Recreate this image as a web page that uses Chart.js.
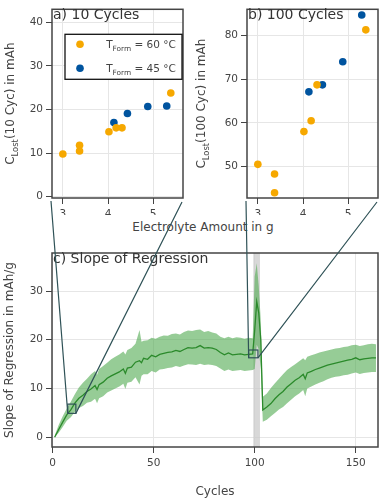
<!DOCTYPE html>
<html>
<head>
<meta charset="utf-8">
<script src="https://cdn.jsdelivr.net/npm/chart.js@4.4.1/dist/chart.umd.min.js"></script>
<style>
  html, body { margin: 0; padding: 0; background: #fff; }
  #wrap { position: relative; width: 382px; height: 501px; overflow: hidden; }
  canvas { position: absolute; }
  #cA { left: 0; top: 0; }
  #cB { left: 190px; top: 0; }
  #cC { left: 0; top: 240px; }
  #overlay { left: 0; top: 0; pointer-events: none; }
  #xlabelAB {
    position: absolute; left: 203px; top: 227px; transform: translate(-50%, -50%);
    font: 12px 'DejaVu Sans', sans-serif; color: #444; white-space: nowrap;
  }
</style>
</head>
<body>
<div id="wrap">
  <canvas id="cA" width="190" height="215"></canvas>
  <canvas id="cB" width="192" height="215"></canvas>
  <canvas id="cC" width="382" height="261"></canvas>
  <div id="xlabelAB">Electrolyte Amount in g</div>
  <canvas id="overlay" width="382" height="501"></canvas>
</div>
<script>
// ============================================================
// Capacity loss vs electrolyte amount + slope of regression
// ============================================================

// ── Scatter data (electrolyte amount in g) ──────────────────
const MASS_60     = [3.00, 3.37, 3.37, 4.02, 4.18, 4.31, 5.39];
const LOST10_60   = [9.8, 10.5, 11.8, 14.9, 15.8, 15.8, 23.8];
const LOST100_60  = [50.5, 48.3, 44.0, 58.0, 60.5, 68.7, 81.3];

const MASS_45     = [4.13, 4.43, 4.88, 5.30];
const LOST10_45   = [17.0, 19.1, 20.7, 20.8];
const LOST100_45  = [67.1, 68.7, 74.0, 84.7];

// ── Slope of regression over cycles ─────────────────────────
const CYCLES = [1, 3, 5, 7, 9, 11, 13, 15, 17, 19, 21, 22, 23, 25, 27, 29, 31, 33, 35, 36,
  37, 39, 41, 43, 44, 45, 47, 49, 51, 53, 55, 57, 59, 61, 63, 65, 67, 69, 71, 73,
  75, 77, 79, 81, 83, 85, 87, 89, 91, 93, 95, 97, 99, 100, 101, 102, 103, 104, 106, 108,
  110, 112, 114, 116, 118, 120, 122, 124, 125, 126, 128, 130, 132, 134, 136, 138, 140, 142, 144, 146,
  148, 150, 152, 154, 156, 158, 160];

const SLOPE_MEAN = [0, 1.6, 3.1, 4.6, 5.6, 7.0, 8.0, 8.6, 9.4, 9.9, 10.6, 9.8, 10.8, 11.3, 12.1, 12.6, 13.0, 13.4, 14.0, 13.1,
  14.2, 14.4, 15.4, 15.7, 15.3, 16.2, 16.0, 16.8, 16.5, 17.0, 17.2, 17.4, 17.5, 17.8, 17.6, 18.0, 18.4, 18.3, 18.4, 18.8,
  18.3, 18.4, 18.3, 18.0, 17.4, 16.9, 17.3, 16.9, 17.0, 17.1, 16.9, 17.0, 17.1, 22.0, 27.8, 25.5, 20.0, 5.6, 6.2, 6.9,
  7.9, 8.7, 9.4, 10.3, 11.0, 11.7, 12.2, 12.9, 12.0, 13.2, 13.5, 13.9, 14.2, 14.5, 14.8, 15.0, 15.2, 15.4, 15.6, 15.8,
  16.0, 16.3, 15.9, 16.1, 16.2, 16.3, 16.3];

const SLOPE_UPPER = [0.3, 2.5, 4.3, 5.9, 7.3, 8.8, 10.2, 11.2, 12.0, 12.9, 13.6, 12.8, 14.0, 14.6, 15.3, 16.0, 16.5, 17.0, 17.6, 17.0,
  17.9, 18.3, 19.2, 22.0, 19.6, 19.8, 19.9, 20.4, 20.2, 20.6, 20.9, 20.8, 21.2, 21.3, 21.1, 21.6, 21.9, 21.8, 22.0, 22.1,
  21.6, 21.8, 21.5, 21.3, 20.6, 20.3, 20.6, 20.3, 20.5, 20.4, 20.2, 20.4, 20.3, 33.0, 35.7, 31.0, 24.0, 8.3, 9.0, 10.1,
  11.1, 12.0, 12.9, 13.8, 14.4, 15.0, 15.6, 16.2, 15.8, 16.5, 16.8, 17.1, 17.4, 17.6, 17.8, 18.0, 18.2, 18.3, 18.5, 18.6,
  18.9, 19.0, 18.7, 18.9, 19.1, 19.2, 19.1];

const SLOPE_LOWER = [0, 0.9, 2.1, 3.4, 4.1, 5.2, 6.0, 6.4, 7.1, 7.3, 7.9, 7.0, 8.0, 8.4, 9.2, 9.6, 10.0, 10.4, 11.0, 9.9,
  11.2, 11.4, 12.3, 10.8, 12.6, 12.9, 12.9, 13.6, 13.3, 13.9, 14.0, 14.2, 14.3, 14.6, 14.4, 14.7, 15.0, 14.9, 14.8, 15.1,
  14.8, 14.9, 14.8, 14.6, 14.1, 13.6, 13.9, 13.6, 13.7, 13.8, 13.6, 13.7, 13.8, 14.0, 19.0, 18.0, 14.0, 3.2, 3.6, 4.3,
  5.0, 5.7, 6.2, 7.0, 7.7, 8.4, 9.0, 9.7, 8.4, 10.0, 10.4, 10.8, 11.2, 11.5, 11.9, 12.2, 12.4, 12.5, 12.7, 12.8,
  13.1, 13.3, 13.0, 13.2, 13.3, 13.4, 13.4];

// grey band (formation check-up) and the two zoom boxes, in data units
const CHECKUP_BAND = [99.3, 102.6];
const ZOOM_10  = { x: [7.5, 11.5], y: [4.9, 6.8] };
const ZOOM_100 = { x: [97.0, 101.6], y: [16.3, 17.9] };

// ── Styling ─────────────────────────────────────────────────
const FONT   = "'DejaVu Sans', sans-serif";
const INK    = '#444';
const GRID   = '#e6e6e6';
const ORANGE = '#F6A800';
const BLUE   = '#00549F';
const GREEN  = '#2b8a2b';
const BAND   = 'rgba(80,170,80,0.6)';
const LINK   = '#2f5257';

const toXY = (xs, ys) => xs.map((x, i) => ({ x: x, y: ys[i] }));

function axis(min, max, step, fit, horizontal) {
  return {
    type: 'linear', min: min, max: max,
    afterFit: (s) => { if (horizontal) s.height = fit; else s.width = fit; },
    grid: { color: GRID, tickColor: INK, tickLength: 6 },
    border: { display: false },
    ticks: {
      stepSize: step, includeBounds: false, color: INK,
      padding: horizontal ? 4 : 3,
      font: { family: FONT, size: 10.5 }
    }
  };
}

// ── Text helpers (sub-scripts) ──────────────────────────────
function drawRich(ctx, parts, x, y, size, rotate) {
  const main = size + 'px ' + FONT;
  const sub  = (size * 0.7) + 'px ' + FONT;
  let width = 0;
  parts.forEach(p => { ctx.font = p[1] ? sub : main; width += ctx.measureText(p[0]).width; });
  ctx.save();
  ctx.translate(x, y);
  if (rotate) ctx.rotate(-Math.PI / 2);
  ctx.fillStyle = INK;
  ctx.textBaseline = 'alphabetic';
  let cx = -width / 2;
  parts.forEach(p => {
    ctx.font = p[1] ? sub : main;
    ctx.fillText(p[0], cx, p[1] ? size * 0.3 : 0);
    cx += ctx.measureText(p[0]).width;
  });
  ctx.restore();
}

// frame + panel label + rotated y title
function panelPlugin(label, yTitle, titleX) {
  return {
    id: 'panel',
    beforeDatasetsDraw(chart) {
      const band = chart.options.plugins.panel && chart.options.plugins.panel.band;
      if (!band) return;
      const { ctx, chartArea: a, scales: { x } } = chart;
      const l = x.getPixelForValue(band[0]), r = x.getPixelForValue(band[1]);
      ctx.save();
      ctx.fillStyle = 'rgba(200,200,200,0.7)';
      ctx.fillRect(l, a.top, r - l, a.bottom - a.top);
      ctx.restore();
    },
    afterDraw(chart) {
      const { ctx, chartArea: a } = chart;
      ctx.save();
      ctx.strokeStyle = INK;
      ctx.lineWidth = 1.5;
      ctx.strokeRect(a.left, a.top, a.right - a.left, a.bottom - a.top);
      ctx.fillStyle = '#333';
      ctx.font = '14px ' + FONT;
      ctx.textBaseline = 'top';
      ctx.fillText(label, a.left + 1, a.top - 1);
      ctx.restore();
      if (yTitle) drawRich(ctx, yTitle, titleX, (a.top + a.bottom) / 2, 12, true);
    }
  };
}

// legend with T_Form sub-script (panel a)
const legendPlugin = {
  id: 'formLegend',
  afterDraw(chart) {
    const { ctx, chartArea: a } = chart;
    const bx = a.left + 13, by = a.top + 25, bw = 117, bh = 45;
    ctx.save();
    ctx.fillStyle = '#fff';
    ctx.fillRect(bx, by, bw, bh);
    ctx.strokeStyle = '#111';
    ctx.lineWidth = 1.3;
    ctx.strokeRect(bx, by, bw, bh);
    [[ORANGE, '60'], [BLUE, '45']].forEach((it, i) => {
      const cy = by + 10 + i * 24;
      ctx.fillStyle = it[0];
      ctx.beginPath();
      ctx.arc(bx + 15, cy, 3.8, 0, Math.PI * 2);
      ctx.fill();
      ctx.save();
      ctx.translate(bx + 76, cy + 4);
      drawRich(ctx, [['T', false], ['Form', true], [' = ' + it[1] + ' \u00B0C', false]], 0, 0, 10.5, false);
      ctx.restore();
    });
    ctx.restore();
  }
};

function scatterConfig(ys60, ys45, yMin, yMax, yFit, rightPad, plugins, extra) {
  return {
    type: 'scatter',
    data: {
      datasets: [
        { label: 'T_Form = 60 °C', data: toXY(MASS_60, ys60), backgroundColor: ORANGE, borderWidth: 0, pointRadius: 3.8 },
        { label: 'T_Form = 45 °C', data: toXY(MASS_45, ys45), backgroundColor: BLUE, borderWidth: 0, pointRadius: 3.8 }
      ]
    },
    options: {
      responsive: false, animation: false, devicePixelRatio: 1,
      layout: { padding: { top: 4, right: rightPad, left: 0, bottom: 0 } },
      plugins: { legend: { display: false }, tooltip: { enabled: false } },
      scales: {
        x: axis(2.76, 5.66, 1, 17, true),
        y: axis(yMin, yMax, 10, yFit, false)
      }
    },
    plugins: plugins
  };
}

const chartA = new Chart(document.getElementById('cA'), scatterConfig(
  LOST10_60, LOST10_45, -0.3, 43, 52, 7,
  [panelPlugin('a) 10 Cycles', [['C', false], ['Lost', true], ['(10 Cyc) in mAh', false]], 14), legendPlugin]
));

const chartB = new Chart(document.getElementById('cB'), scatterConfig(
  LOST100_60, LOST100_45, 42.8, 86, 57, 2,
  [panelPlugin('b) 100 Cycles', [['C', false], ['Lost', true], ['(100 Cyc) in mAh', false]], 15)]
));

// ── Slope of regression ─────────────────────────────────────
const xC = axis(-0.3, 161, 50, 54, true);
xC.title = { display: true, text: 'Cycles', color: INK, font: { family: FONT, size: 12 }, padding: { top: 0, bottom: 2 } };
const yC = axis(-2, 37.8, 10, 52, false);
yC.title = { display: true, text: 'Slope of Regression in mAh/g', color: INK, font: { family: FONT, size: 12 }, padding: { top: 3, bottom: 0 } };

const chartC = new Chart(document.getElementById('cC'), {
  type: 'line',
  data: {
    datasets: [
      { label: 'mean', data: toXY(CYCLES, SLOPE_MEAN), borderColor: GREEN, borderWidth: 1.3, pointRadius: 0, fill: false, tension: 0 },
      { label: 'upper', data: toXY(CYCLES, SLOPE_UPPER), borderWidth: 0, pointRadius: 0, backgroundColor: BAND, fill: '+1', tension: 0 },
      { label: 'lower', data: toXY(CYCLES, SLOPE_LOWER), borderWidth: 0, pointRadius: 0, fill: false, tension: 0 }
    ]
  },
  options: {
    responsive: false, animation: false, devicePixelRatio: 1,
    layout: { padding: { top: 13, right: 4, left: 0, bottom: 0 } },
    plugins: { legend: { display: false }, tooltip: { enabled: false }, panel: { band: CHECKUP_BAND } },
    scales: { x: xC, y: yC }
  },
  plugins: [panelPlugin('c) Slope of Regression', null, 0)]
});

// ── Zoom connectors (overlay across panels) ─────────────────
function drawConnectors() {
  const ctx = document.getElementById('overlay').getContext('2d');
  const off = (c) => [c.canvas.offsetLeft, c.canvas.offsetTop];
  const [cxo, cyo] = off(chartC);
  const sx = chartC.scales.x, sy = chartC.scales.y;

  ctx.strokeStyle = LINK;
  ctx.lineWidth = 1.2;

  [[chartA, ZOOM_10], [chartB, ZOOM_100]].forEach(([src, z]) => {
    const [ox, oy] = off(src);
    const a = src.chartArea;
    const l = sx.getPixelForValue(z.x[0]) + cxo;
    const r = sx.getPixelForValue(z.x[1]) + cxo;
    const t = sy.getPixelForValue(z.y[1]) + cyo;
    const b = sy.getPixelForValue(z.y[0]) + cyo;
    ctx.strokeRect(l, t, r - l, b - t);
    ctx.beginPath();
    ctx.moveTo(a.left + ox - 1, a.bottom + oy + 3);
    ctx.lineTo(l, b);
    ctx.moveTo(a.right + ox - 1, a.bottom + oy + 4);
    ctx.lineTo(r, b);
    ctx.stroke();
  });
}

drawConnectors();
</script>
</body>
</html>
